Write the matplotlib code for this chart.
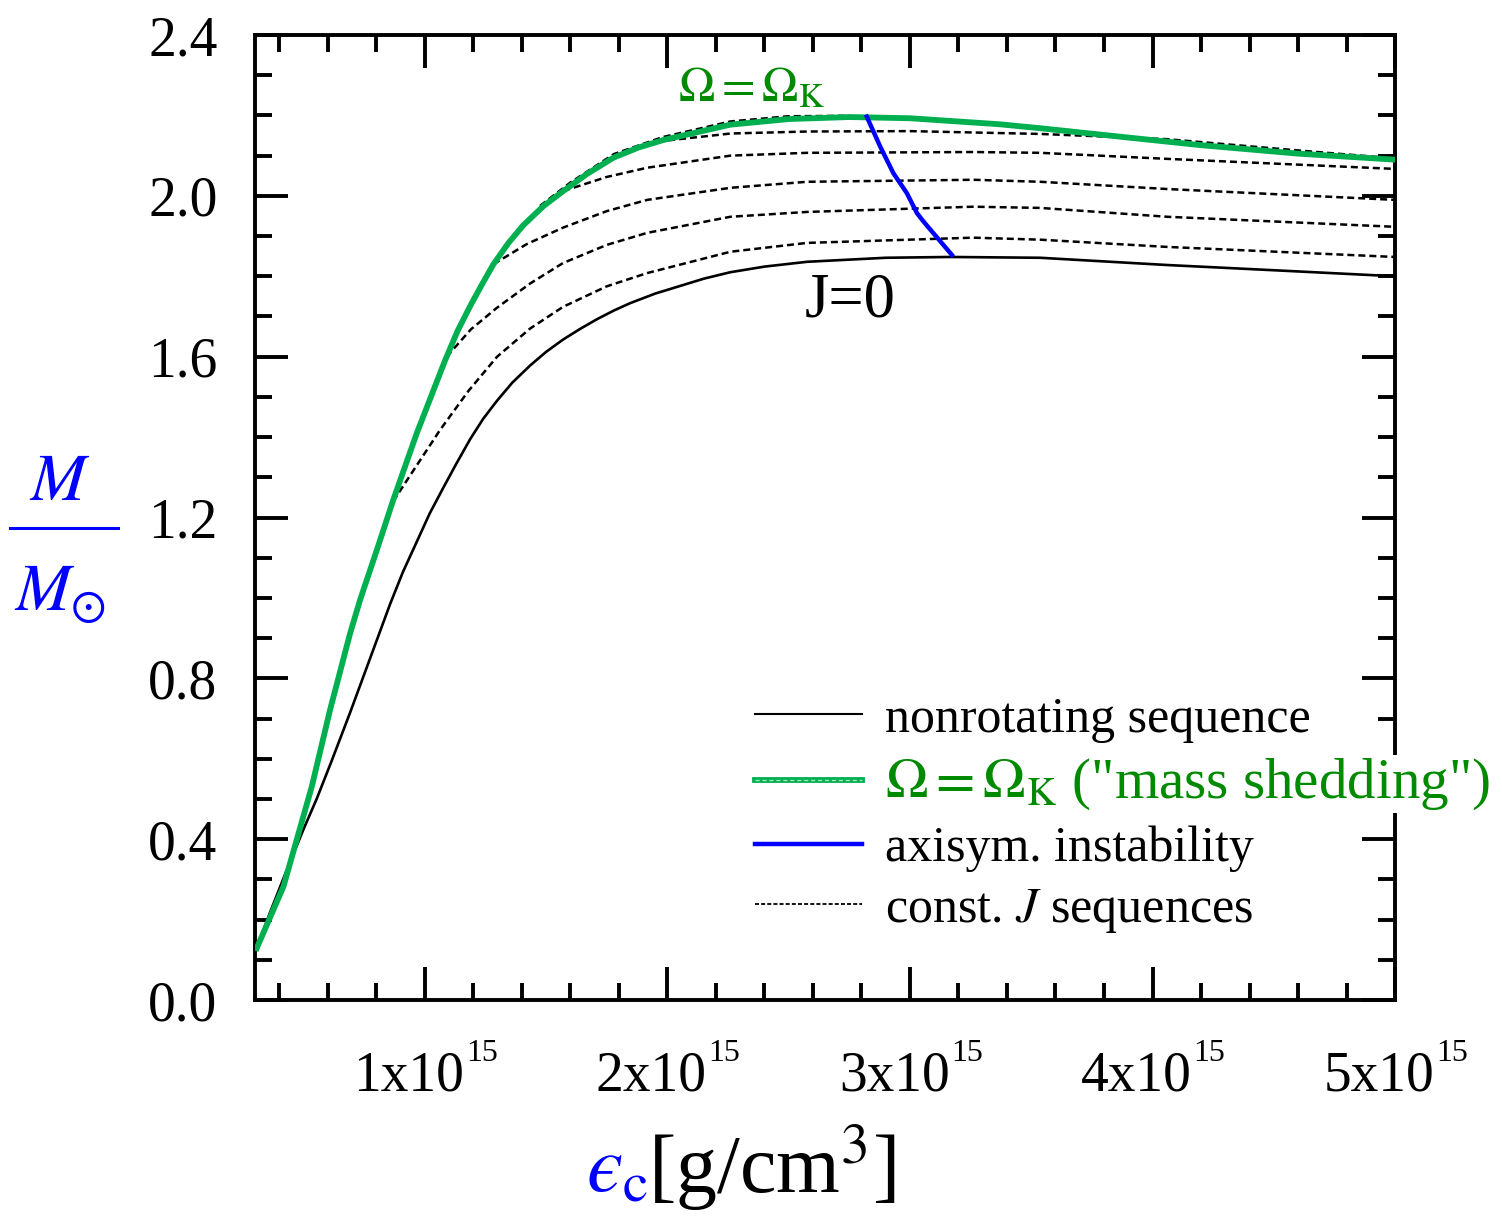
import matplotlib.pyplot as plt
from matplotlib.lines import Line2D
from matplotlib.legend_handler import HandlerTuple
from matplotlib.ticker import MultipleLocator, FuncFormatter

plt.rcParams['font.family'] = ['Liberation Serif', 'DejaVu Serif']
plt.rcParams['mathtext.fontset'] = 'stix'

# central energy density in units of 1e15 g/cm^3, mass in M_sun
# mass shedding limit (Omega = Omega_K)
ms_eps = [0.307, 0.417, 0.534, 0.609, 0.692, 0.733, 0.802, 0.87, 0.967, 1.083, 1.135, 1.187, 1.235,
          1.283, 1.345, 1.406, 1.49, 1.571, 1.67, 1.778, 1.88, 1.984, 2.259, 2.5, 2.75, 3.0, 3.37,
          3.54, 3.9, 4.2, 4.6, 5.0]
ms_mass = [0.129, 0.282, 0.531, 0.721, 0.912, 0.995, 1.119, 1.244, 1.41, 1.59, 1.664, 1.726, 1.779,
           1.83, 1.883, 1.927, 1.975, 2.012, 2.055, 2.095, 2.12, 2.139, 2.177, 2.191, 2.196, 2.193,
           2.178, 2.168, 2.145, 2.126, 2.105, 2.09]

# nonrotating sequence (J = 0)
j0_eps = [0.307, 0.36, 0.43, 0.5, 0.554, 0.616, 0.692, 0.75, 0.802, 0.857, 0.91, 0.967, 1.02, 1.077,
          1.13, 1.187, 1.24, 1.297, 1.36, 1.434, 1.5, 1.571, 1.64, 1.709, 1.78, 1.846, 1.95, 2.053,
          2.15, 2.259, 2.4, 2.576, 2.9, 3.166, 3.537, 4.06, 4.5, 5.0]
j0_mass = [0.129, 0.215, 0.322, 0.425, 0.50, 0.595, 0.715, 0.81, 0.895, 0.985, 1.065, 1.14, 1.21, 1.275,
           1.334, 1.395, 1.445, 1.49, 1.535, 1.578, 1.612, 1.643, 1.669, 1.693, 1.715, 1.733, 1.757,
           1.776, 1.794, 1.81, 1.824, 1.836, 1.846, 1.848, 1.846, 1.828, 1.815, 1.80]

# axisymmetric instability line
ax_eps = [2.822, 2.877, 2.932, 2.987, 3.029, 3.056, 3.173]
ax_mass = [2.197, 2.123, 2.056, 2.007, 1.957, 1.936, 1.853]

# constant J sequences
cj_eps = [
    [0.869, 0.967, 1.063, 1.18, 1.298, 1.434, 1.57, 1.75, 1.917, 2.26, 2.576, 3.26, 3.537, 4.06, 5.0],
    [1.09, 1.19, 1.298, 1.434, 1.57, 1.75, 1.917, 2.26, 2.576, 3.26, 3.537, 4.06, 5.0],
    [1.283, 1.42, 1.57, 1.75, 1.917, 2.26, 2.576, 3.26, 3.537, 4.06, 5.0],
    [1.571, 1.75, 1.917, 2.26, 2.576, 3.26, 3.537, 4.06, 5.0],
    [1.958, 2.26, 2.576, 3.0, 3.537, 4.06, 4.5, 5.0],
    [1.475, 1.6, 1.78, 1.98, 2.26, 2.5, 2.75],
]
cj_mass = [
    [1.24, 1.33, 1.418, 1.515, 1.6, 1.67, 1.724, 1.775, 1.808, 1.861, 1.883, 1.896, 1.891, 1.873, 1.848],
    [1.60, 1.668, 1.722, 1.782, 1.833, 1.878, 1.908, 1.948, 1.96, 1.973, 1.97, 1.948, 1.923],
    [1.83, 1.88, 1.921, 1.962, 1.99, 2.02, 2.035, 2.04, 2.035, 2.017, 1.99],
    [2.012, 2.047, 2.07, 2.10, 2.107, 2.109, 2.107, 2.092, 2.067],
    [2.135, 2.155, 2.16, 2.161, 2.154, 2.141, 2.118, 2.093],
    [1.975, 2.033, 2.104, 2.146, 2.185, 2.198, 2.199],
]

x_ticks = [1, 2, 3, 4, 5]

green = '#00b050'
dkgreen = '#008a00'
blue = '#0000ff'
scale = 1e15

fig = plt.figure(figsize=(15.02, 12.2), dpi=100)
ax = fig.add_axes([0.1698, 0.1803, 0.759, 0.791])

for e, m in zip(cj_eps, cj_mass):
    ax.plot([v * scale for v in e], m, color='k', lw=1.8, ls=(0, (2.8, 1.6)), zorder=2)
l_j0, = ax.plot([v * scale for v in j0_eps], j0_mass, color='k', lw=1.9, zorder=3)
l_ms, = ax.plot([v * scale for v in ms_eps], ms_mass, color=green, lw=4.2, zorder=4)
l_ax, = ax.plot([v * scale for v in ax_eps], ax_mass, color=blue, lw=3.2, zorder=5)

ax.text(2.044 * scale, 2.234, r'$\Omega = \Omega_{\rm K}$', color=dkgreen, fontsize=35, va='baseline')
ax.text(2.568 * scale, 1.70, 'J=0', color='k', fontsize=45, va='baseline')

ax.set_xlim(0.3 * scale, 5.0 * scale)
ax.set_ylim(0, 2.4)
ax.set_xticks([t * scale for t in x_ticks])
ax.xaxis.set_minor_locator(MultipleLocator(0.2 * scale))
ax.yaxis.set_major_locator(MultipleLocator(0.4))
ax.yaxis.set_minor_locator(MultipleLocator(0.1))
ax.yaxis.set_major_formatter(FuncFormatter(lambda v, p: '%.1f' % v))
ax.tick_params(which='both', direction='in', top=True, right=True, width=2.8, labelsize=40)
ax.tick_params(which='major', length=24)
ax.tick_params(which='minor', length=12)
ax.tick_params(axis='y', pad=27)
ax.tick_params(axis='x', labelbottom=False)
for s in ax.spines.values():
    s.set_linewidth(2.8)

# x tick labels "Nx10^15" with a small superscript
for t in x_ticks:
    ax.annotate('%dx10' % t, xy=(t * scale, 0), xycoords=('data', 'axes fraction'),
                xytext=(28.5, -64.8), textcoords='offset points', ha='right', va='baseline',
                fontsize=40, annotation_clip=False)
    ax.annotate('15', xy=(t * scale, 0), xycoords=('data', 'axes fraction'),
                xytext=(29.5, -44.0), textcoords='offset points', ha='left', va='baseline',
                fontsize=23, annotation_clip=False)

# legend
h_ms_dash = Line2D([], [], color='#a8e0bd', lw=1.0, ls=(0, (3, 2)))
h_cj = Line2D([], [], color='k', lw=1.3, ls=(0, (2.2, 1.2)))
h_j0 = Line2D([], [], color='k', lw=1.5)
leg = ax.legend([h_j0, (l_ms, h_ms_dash), l_ax, h_cj],
                ['nonrotating sequence', r'$\Omega = \Omega_{\rm K}$ ("mass shedding")',
                 'axisym. instability', r'const. $J$ sequences'],
                handler_map={tuple: HandlerTuple(ndivide=1)},
                loc='upper left', bbox_to_anchor=(0.4386, 0.315), frameon=False,
                fontsize=36, handlelength=2.14, handletextpad=0.46, labelspacing=0.28,
                borderpad=0, borderaxespad=0)
gtxt = leg.get_texts()[1]
gtxt.set_color(dkgreen)
gtxt.set_fontsize(41)
gtxt.set_bbox(dict(facecolor='white', edgecolor='none', pad=1))

# y label: M / M_sun as a stacked fraction
fig.text(60 / 1502, 1 - 483 / 1220, r'$M$', color=blue, fontsize=48, ha='center', va='center')
fig.text(60 / 1502, 1 - 594 / 1220, r'$M_{\odot}$', color=blue, fontsize=48, ha='center', va='center')
fig.add_artist(Line2D([10 / 1502, 118 / 1502], [1 - 528 / 1220, 1 - 528 / 1220],
                      color=blue, lw=2.2, transform=fig.transFigure))

# x label
fig.text(648 / 1502, 1 - 1192 / 1220, r'$ϵ_{\rm c}$', color=blue, fontsize=59,
         ha='right', va='baseline')
fig.text(648 / 1502, 1 - 1192 / 1220, r'[g/cm$^3$]', color='k', fontsize=59,
         ha='left', va='baseline')

fig.savefig('out.png', dpi=100)
